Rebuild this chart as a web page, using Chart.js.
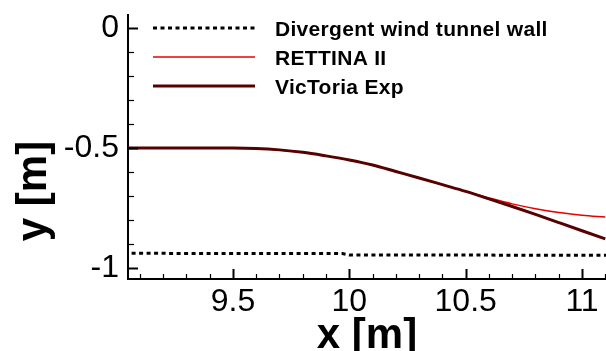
<!DOCTYPE html>
<html>
<head>
<meta charset="utf-8">
<script src="https://cdn.jsdelivr.net/npm/chart.js@4.4.1/dist/chart.umd.min.js"></script>
<style>
  html, body { margin: 0; padding: 0; background: #fff; }
  #wrap { width: 606px; height: 351px; }
</style>
</head>
<body>
<div id="wrap"><canvas id="chart"></canvas></div>
<script>
// ── Data ─────────────────────────────────────────────────
const xCurve = [
  9.0, 9.2, 9.4, 9.5, 9.6, 9.7, 9.8, 9.9, 10.0, 10.1, 10.2, 10.3, 10.4, 10.5,
  10.6, 10.7, 10.8, 10.9, 11.0, 11.1,
];
const rettina = [
  -0.5, -0.5, -0.5, -0.5, -0.502, -0.508, -0.518, -0.533, -0.55, -0.571,
  -0.598, -0.625, -0.653, -0.681, -0.708, -0.733, -0.753, -0.769, -0.78, -0.788,
];
const victoria = [
  -0.5, -0.5, -0.5, -0.5, -0.502, -0.508, -0.518, -0.533, -0.55, -0.571,
  -0.598, -0.625, -0.653, -0.681, -0.712, -0.744, -0.777, -0.811, -0.845, -0.879,
];
const wallX = [9.0, 9.97, 10.0, 11.2];
const wallY = [-0.939, -0.94, -0.946, -0.947];

const seriesNames = ["Divergent wind tunnel wall", "RETTINA II", "VicToria Exp"];
const xTickVals = [9.5, 10, 10.5, 11];
const xTickLabels = ["9.5", "10", "10.5", "11"];
const yTickVals = [0, -0.5, -1];
const yTickLabels = ["0", "-0.5", "-1"];
const xTitle = "x [m]";
const yTitle = "y [m]";

const X_MIN = 9.049;
const X_MAX = 11.103;
const Y_MIN = -1.046;
const Y_MAX = 0.054;

const WALL_COLOR = "#000000";
const RED = "#e80000";
const DARK = "#560000";
const WALL_DASH = [4, 3.5];

const toPts = (xs, ys) => xs.map((x, i) => ({ x, y: ys[i] }));

// ── Inward ticks, legend and titles ──────────────────────
const decorPlugin = {
  id: "decor",
  afterDraw(chart) {
    const { ctx: c, chartArea: a, scales } = chart;
    const sx = scales.x;
    const sy = scales.y;

    c.save();
    c.strokeStyle = "#000";

    // x ticks every 0.1, major every 0.5
    for (let i = Math.ceil(sx.min * 10); i <= Math.floor(sx.max * 10); i++) {
      const v = i / 10;
      const major = Math.abs(v * 2 - Math.round(v * 2)) < 1e-6;
      const px = Math.round(sx.getPixelForValue(v)) + 0.5;
      c.lineWidth = major ? 2 : 1.2;
      c.beginPath();
      c.moveTo(px, a.bottom);
      c.lineTo(px, a.bottom - (major ? 10 : 5));
      c.stroke();
    }
    // y ticks
    for (let i = Math.ceil(sy.min * 10); i <= Math.floor(sy.max * 10); i++) {
      const v = i / 10;
      const major = Math.abs(v * 2 - Math.round(v * 2)) < 1e-6;
      const py = Math.round(sy.getPixelForValue(v)) + 0.5;
      c.lineWidth = major ? 2 : 1.2;
      c.beginPath();
      c.moveTo(a.left, py);
      c.lineTo(a.left + (major ? 10 : 6), py);
      c.stroke();
    }

    // legend
    const legend = [
      { color: WALL_COLOR, width: 3, dash: WALL_DASH },
      { color: RED, width: 1.5, dash: [] },
      { color: DARK, width: 3, dash: [] },
    ];
    c.font = "bold 21px 'Liberation Sans', Arial, sans-serif";
    c.letterSpacing = "0.3px";
    c.textAlign = "left";
    c.textBaseline = "alphabetic";
    legend.forEach((l, i) => {
      const ly = 28 + i * 29;
      c.beginPath();
      c.setLineDash(l.dash);
      c.lineWidth = l.width;
      c.strokeStyle = l.color;
      c.moveTo(153, ly);
      c.lineTo(255, ly);
      c.stroke();
      c.setLineDash([]);
      c.fillStyle = "#000";
      c.fillText(seriesNames[i], 275, ly + 7.5);
    });
    c.letterSpacing = "0px";

    // axis titles
    c.fillStyle = "#000";
    c.font = "bold 42px 'Liberation Sans', Arial, sans-serif";
    c.textAlign = "center";
    c.textBaseline = "alphabetic";
    c.fillText(xTitle, 367, 348);

    c.translate(46, 191);
    c.rotate(-Math.PI / 2);
    c.fillText(yTitle, 0, 0);
    c.restore();
  },
};

const tickFont = { family: "'Liberation Sans', Arial, sans-serif", size: 32 };

new Chart(document.getElementById("chart"), {
  type: "line",
  data: {
    datasets: [
      {
        label: seriesNames[0],
        data: toPts(wallX, wallY),
        borderColor: WALL_COLOR,
        borderWidth: 3,
        borderDash: WALL_DASH,
        borderCapStyle: "butt",
        pointRadius: 0,
        fill: false,
        order: 2,
      },
      {
        label: seriesNames[1],
        data: toPts(xCurve, rettina),
        borderColor: RED,
        borderWidth: 1.5,
        cubicInterpolationMode: "monotone",
        pointRadius: 0,
        fill: false,
        order: 1,
      },
      {
        label: seriesNames[2],
        data: toPts(xCurve, victoria),
        borderColor: DARK,
        borderWidth: 3,
        cubicInterpolationMode: "monotone",
        pointRadius: 0,
        fill: false,
        order: 0,
      },
    ],
  },
  options: {
    responsive: true,
    maintainAspectRatio: false,
    animation: false,
    layout: { padding: { top: 15, right: 0, left: 0, bottom: 0 } },
    plugins: {
      legend: { display: false },
      tooltip: { enabled: false },
    },
    scales: {
      x: {
        type: "linear",
        min: X_MIN,
        max: X_MAX,
        afterBuildTicks: (s) => {
          s.ticks = xTickVals.map((v) => ({ value: v }));
        },
        afterFit: (s) => {
          s.height = 72;
          s.paddingLeft = 0;
          s.paddingRight = 0;
        },
        grid: { display: false, drawTicks: false },
        border: { display: true, color: "#000", width: 2 },
        ticks: {
          color: "#000",
          font: tickFont,
          padding: 4,
          maxRotation: 0,
          autoSkip: false,
          callback: (v, i) => xTickLabels[i],
        },
      },
      y: {
        type: "linear",
        min: Y_MIN,
        max: Y_MAX,
        afterBuildTicks: (s) => {
          s.ticks = yTickVals.map((v) => ({ value: v }));
        },
        afterFit: (s) => {
          s.width = 128;
          s.paddingTop = 0;
          s.paddingBottom = 0;
        },
        grid: { display: false, drawTicks: false },
        border: { display: true, color: "#000", width: 2 },
        ticks: {
          color: "#000",
          font: tickFont,
          padding: 9,
          autoSkip: false,
          callback: (v, i) => yTickLabels[i],
        },
      },
    },
  },
  plugins: [decorPlugin],
});
</script>
</body>
</html>
